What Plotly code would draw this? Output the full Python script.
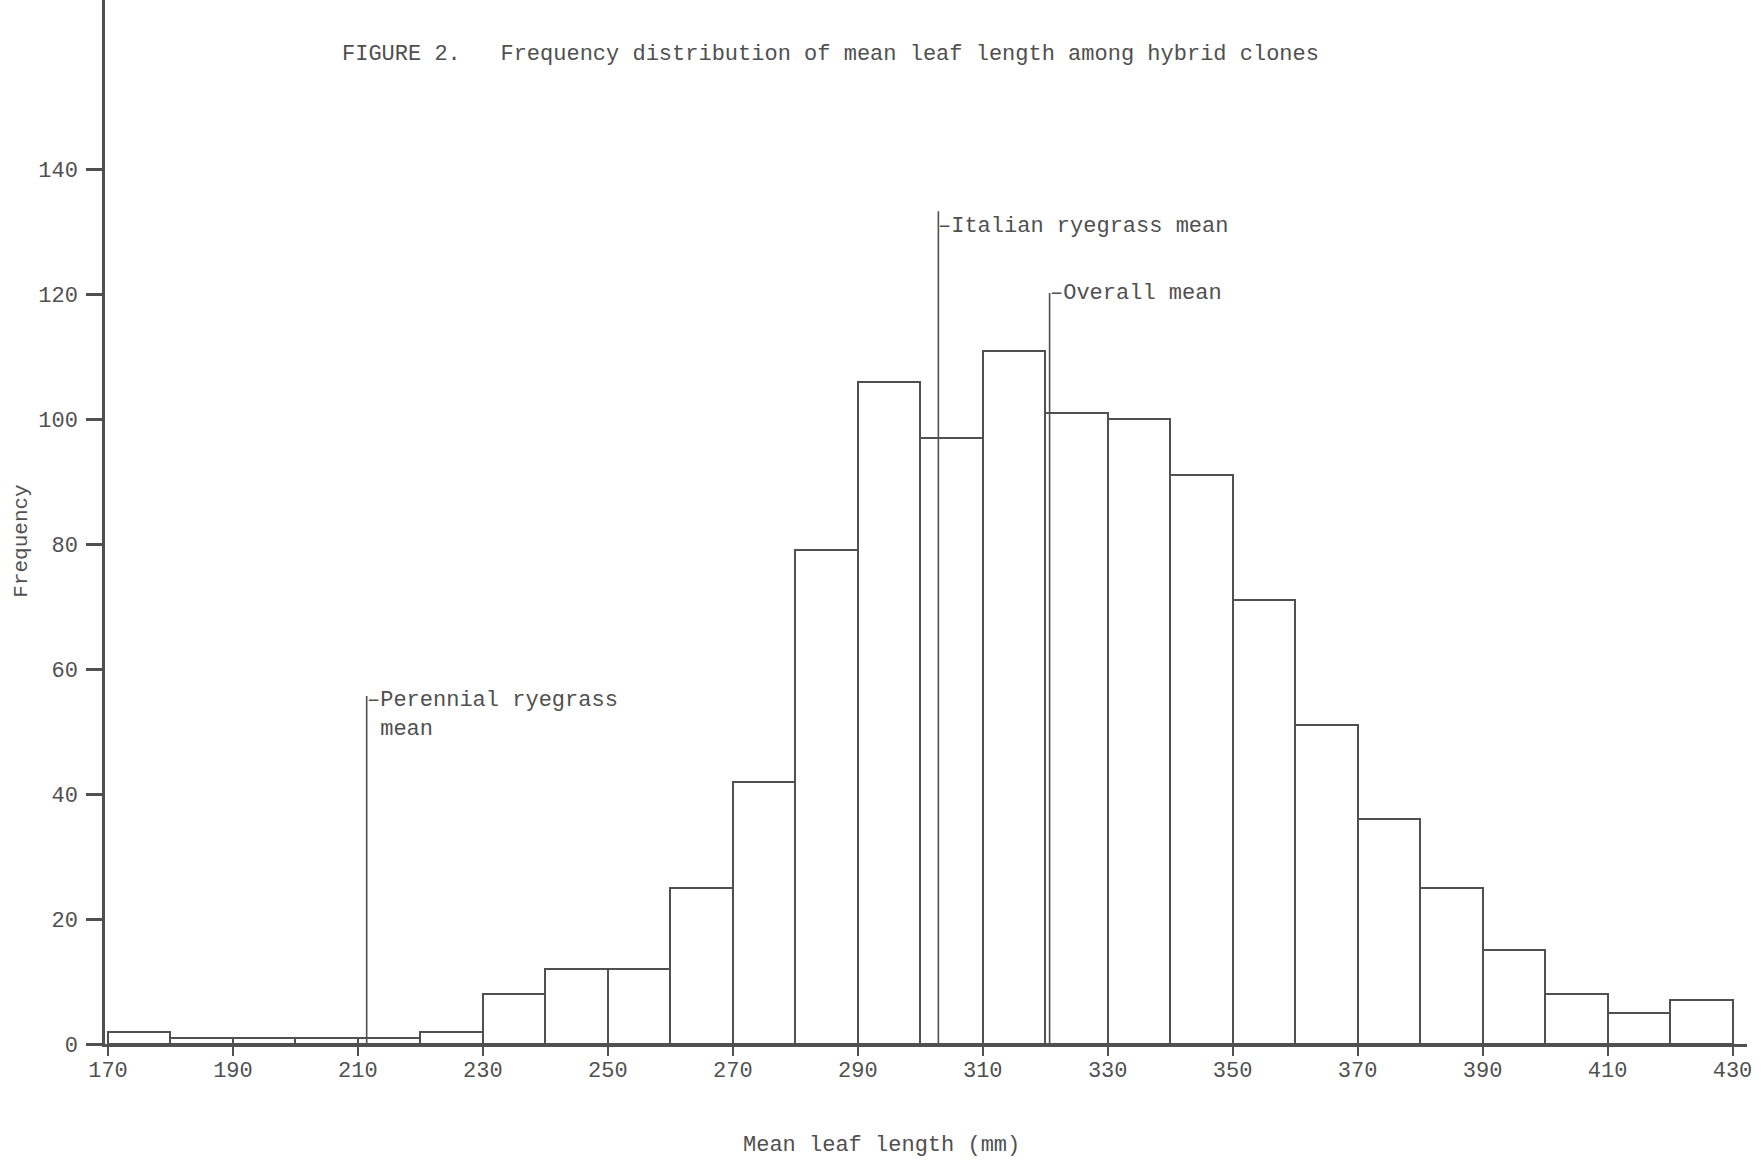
import plotly.graph_objects as go

# ---- data ----
bin_starts = [170, 180, 190, 200, 210, 220, 230, 240, 250, 260, 270, 280, 290,
              300, 310, 320, 330, 340, 350, 360, 370, 380, 390, 400, 410, 420]
bin_width = 10
counts = [2, 1, 1, 1, 1, 2, 8, 12, 12, 25, 42, 79, 106,
          97, 111, 101, 100, 91, 71, 51, 36, 25, 15, 8, 5, 7]

mean_names = ["Perennial ryegrass", "Italian ryegrass", "Overall"]
mean_values = [211.4, 302.9, 320.7]
mean_line_tops = [55.7, 133.3, 120.2]
mean_label_y = [52.6, 130.8, 120.2]
mean_labels = ["\u2013Perennial ryegrass<br>\u00a0mean",
               "\u2013Italian ryegrass mean",
               "\u2013Overall mean"]

x_tick_vals = [170, 190, 210, 230, 250, 270, 290, 310, 330, 350, 370, 390, 410, 430]
y_tick_vals = [0, 20, 40, 60, 80, 100, 120, 140]

title_text = "FIGURE 2.\u00a0\u00a0\u00a0Frequency distribution of mean leaf length among hybrid clones"
x_title = "Mean leaf length (mm)"
y_title = "Frequency"

INK = "#505050"
FONT = "Liberation Mono, DejaVu Sans Mono, monospace"

centers = [s + bin_width / 2 for s in bin_starts]

fig = go.Figure()
fig.add_trace(go.Bar(
    x=centers, y=counts, width=[bin_width] * len(counts),
    marker=dict(color="white", line=dict(color=INK, width=2)),
    showlegend=False, hoverinfo="x+y",
))

for name, mv, top in zip(mean_names, mean_values, mean_line_tops):
    fig.add_trace(go.Scatter(
        x=[mv, mv], y=[0, top], mode="lines",
        line=dict(color=INK, width=1.6), showlegend=False, name=name,
    ))

annotations = []
for mv, ly, lab in zip(mean_values, mean_label_y, mean_labels):
    annotations.append(dict(
        x=mv, y=ly, xref="x", yref="y", text=lab, showarrow=False,
        xanchor="left", yanchor="middle", align="left", xshift=-2,
        font=dict(family=FONT, size=22, color=INK),
    ))

annotations.append(dict(
    x=0.1431, y=0.948, xref="paper", yref="paper", text=title_text,
    showarrow=False, xanchor="left", yanchor="middle",
    font=dict(family=FONT, size=22, color=INK),
))
annotations.append(dict(
    x=0.4726, y=-0.0977, xref="paper", yref="paper", text=x_title,
    showarrow=False, xanchor="center", yanchor="middle",
    font=dict(family=FONT, size=22, color=INK),
))
annotations.append(dict(
    x=-0.0505, y=0.4812, xref="paper", yref="paper", text=y_title,
    showarrow=False, xanchor="center", yanchor="middle", textangle=-90,
    font=dict(family=FONT, size=21, color=INK),
))

fig.update_layout(
    width=1762, height=1163,
    margin=dict(l=105, r=15, t=0, b=119),
    paper_bgcolor="white", plot_bgcolor="white",
    bargap=0,
    annotations=annotations,
    xaxis=dict(
        range=[169.52, 432.32], showgrid=False, zeroline=False,
        showline=True, linecolor=INK, linewidth=2.5,
        tickmode="array", tickvals=x_tick_vals,
        ticks="outside", ticklen=9, tickwidth=2, tickcolor=INK,
        ticklabelstandoff=-5,
        tickfont=dict(family=FONT, size=22, color=INK),
    ),
    yaxis=dict(
        range=[0, 167.1], showgrid=False, zeroline=False,
        showline=True, linecolor=INK, linewidth=2.5,
        tickmode="array", tickvals=y_tick_vals,
        ticks="outside", ticklen=16, tickwidth=2.5, tickcolor=INK,
        ticklabelstandoff=4,
        tickfont=dict(family=FONT, size=22, color=INK),
    ),
)

fig.write_html(
    "out.html",
    config={"displayModeBar": False},
    post_script="document.body.style.margin='0';document.body.style.overflow='hidden';",
)
